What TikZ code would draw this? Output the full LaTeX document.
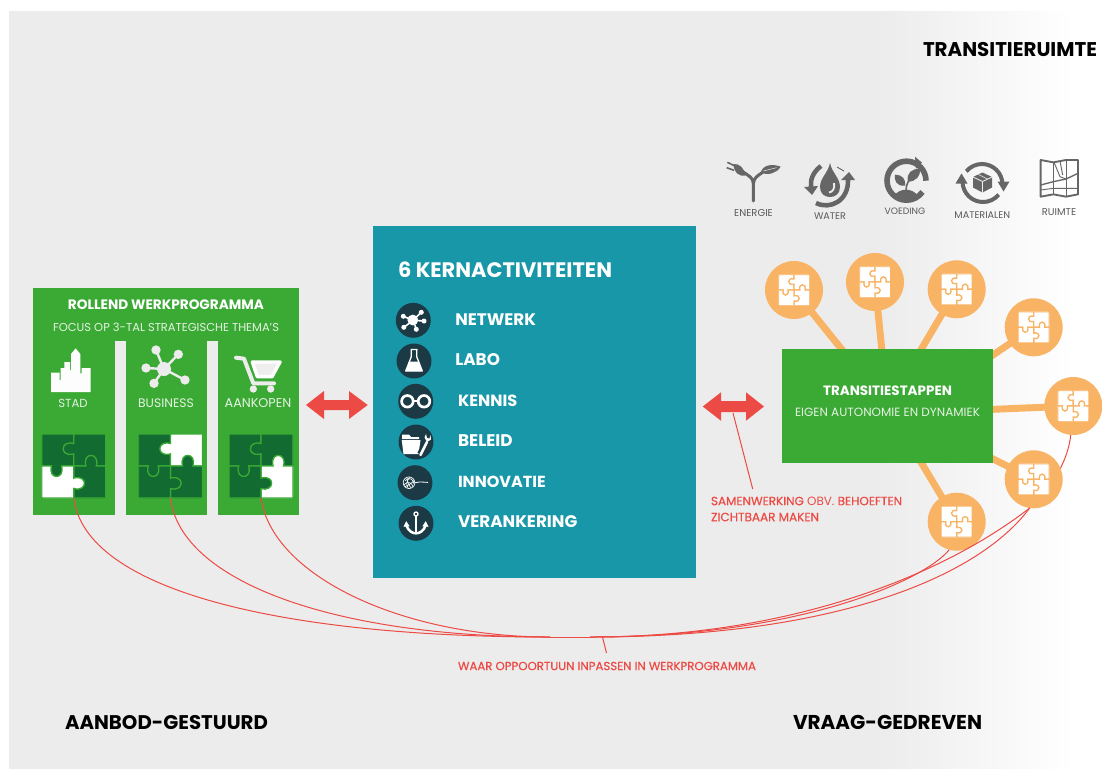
\documentclass[tikz,border=0pt]{standalone}
\usepackage{fontspec}
\usepackage{graphicx}
\setmainfont{Poppins}
\definecolor{bgc}{HTML}{ECECEC}
\definecolor{grn}{HTML}{3BAA35}
\definecolor{dgrn}{HTML}{126B30}
\definecolor{teal1}{HTML}{1897A8}
\definecolor{dteal}{HTML}{1B3A45}
\definecolor{orng}{HTML}{F8B365}
\definecolor{redc}{HTML}{EC4A44}
\definecolor{icon}{HTML}{666666}
\definecolor{lab}{HTML}{5A5A5A}
\definecolor{pale}{HTML}{E4F2E2}
\newcommand\fitw[2]{\resizebox{#1pt}{!}{#2}}
\def\qTL{(-1,-1) -- (0,-1) -- (0,-.70) .. controls (-.44,-.82) and (-.44,-.26) .. (0,-.38) -- (0,0) -- (-.38,0) .. controls (-.26,.44) and (-.82,.44) .. (-.70,0) -- (-1,0) -- cycle}
\def\qTR{(0,-1) -- (1,-1) -- (1,0) -- (.70,0) .. controls (.82,-.44) and (.26,-.44) .. (.38,0) -- (0,0) -- (0,-.38) .. controls (-.44,-.26) and (-.44,-.82) .. (0,-.70) -- cycle}
\def\qBR{(1,0) -- (1,1) -- (0,1) -- (0,.70) .. controls (.44,.82) and (.44,.26) .. (0,.38) -- (0,0) -- (.38,0) .. controls (.26,-.44) and (.82,-.44) .. (.70,0) -- cycle}
\def\qBL{(0,1) -- (-1,1) -- (-1,0) -- (-.70,0) .. controls (-.82,.44) and (-.26,.44) .. (-.38,0) -- (0,0) -- (0,.38) .. controls (.44,.26) and (.44,.82) .. (0,.70) -- cycle}
% name, x, y, half, TL, TR, BL, BR, seam
\newcommand\puzz[9]{%
  \node[inner sep=0pt,outer sep=0pt,minimum size={#4*1.5pt}] (#1) at (#2,#3) {};
  \pgfmathsetmacro{\ulen}{#4*0.75}
  \begin{scope}[shift={(#2,#3)},x=\ulen pt,y=-\ulen pt]
    \clip[rounded corners=1.1pt] (-1,-1) rectangle (1,1);
    \filldraw[fill=#5,draw=#9,line width=.9pt] \qTL;
    \filldraw[fill=#6,draw=#9,line width=.9pt] \qTR;
    \filldraw[fill=#8,draw=#9,line width=.9pt] \qBR;
    \filldraw[fill=#7,draw=#9,line width=.9pt] \qBL;
  \end{scope}}
\newcommand\orb[3]{%
  \node[circle,fill=orng,inner sep=0pt,outer sep=0pt,minimum size=43.5pt] (#1) at (#2,#3) {};}
\newcommand\orbp[3]{\puzz{#1p}{#2}{#3}{15.6}{white}{white}{white}{white}{orng}}
\pgfdeclarelayer{backdrop}
\pgfdeclarelayer{middle}
\pgfsetlayers{backdrop,middle,main}
\tikzset{
  zbox/.style={inner sep=0pt,outer sep=0pt},
  txt/.style={inner sep=0pt,outer sep=0pt},
  spoke/.style={draw=orng,line width=5.2pt},
  thin red/.style={draw=redc,line width=.75pt},
  dot/.style={circle,fill=dteal,inner sep=0pt,outer sep=0pt,minimum size=26.2pt},
}
\begin{document}
\begin{tikzpicture}[x=.75pt,y=-.75pt]
\useasboundingbox (0,0) rectangle (1102,769);
\begin{pgfonlayer}{backdrop}
  \fill[bgc] (9,11) rectangle (880,769);
  \foreach \i in {0,...,59} {
    \pgfmathsetmacro{\xa}{880+\i*3.25}
    \pgfmathsetmacro{\xb}{\xa+3.6}
    \pgfmathsetmacro{\pc}{100-\i*100/59}
    \fill[bgc!\pc!white] (\xa,11) rectangle (\xb,769);
  }
\end{pgfonlayer}

% boxes
\node[zbox,fill=grn,minimum width={266*.75pt},minimum height={227.5*.75pt}] (prog) at (166,401.25) {};
\fill[bgc] (114.7,341) rectangle (125.5,515.2);
\fill[bgc] (206.7,341) rectangle (217.7,515.2);
\node[zbox,fill=teal1,minimum width={323*.75pt},minimum height={352*.75pt}] (kern) at (534.5,402) {};
\node[zbox,fill=grn,minimum width={211*.75pt},minimum height={114*.75pt}] (steps) at (887.5,406.3) {};

% orange circles
\orb{c1}{794}{290}
\orb{c2}{875}{282}
\orb{c3}{956.7}{289.3}
\orb{c4}{1033.7}{327.3}
\orb{c5}{1073.3}{406}
\orb{c6}{1033.7}{479.3}
\orb{c7}{956.7}{521.7}
\orbp{c1}{794}{290}
\orbp{c2}{875}{282}
\orbp{c3}{956.7}{289.3}
\orbp{c4}{1033.7}{327.3}
\orbp{c5}{1073.3}{406}
\orbp{c6}{1033.7}{479.3}
\orbp{c7}{956.7}{521.7}

\coordinate (hubB) at (880,414);
\coordinate (hubC) at (887,427);
\begin{pgfonlayer}{middle}
  \foreach \c in {c1,c2,c3,c6,c7} {\draw[spoke] (steps.center) -- (\c.center);}
  \draw[spoke] (hubB) -- (c5.center);
  \draw[spoke] (hubC) -- (c4.center);
  \draw[thin red] (c5.265) .. controls (1068,462) and (1050,490) .. (c6.262);
\end{pgfonlayer}

% puzzles
\puzz{p1}{73.8}{466}{32}{dgrn}{dgrn}{white}{dgrn}{grn}
\puzz{p2}{170.5}{466}{32}{dgrn}{white}{dgrn}{dgrn}{grn}
\puzz{p3}{261}{466}{32}{dgrn}{dgrn}{dgrn}{white}{grn}

% red curves
\coordinate (mergeL) at (550,637);
\coordinate (mergeR) at (590,637);
\draw[thin red] (p1.south) .. controls (85,590) and (280,637) .. (mergeL);
\draw[thin red] (p2.south) .. controls (180,580) and (330,637) .. (mergeL);
\draw[thin red] (p3.south) .. controls (272,575) and (400,637) .. (mergeL);
\draw[thin red] (mergeL) -- (mergeR);
\draw[thin red] (c7.255) .. controls (925,580) and (800,637) .. (mergeR);
\draw[thin red] (c6.262) .. controls (950,570) and (800,637) .. (mergeR);
\draw[thin red] (c6.262) .. controls (980,575) and (840,637) .. (mergeR);

% red double arrows
\coordinate (arrowL) at (337,405);
\coordinate (arrowR) at (733.5,406.5);
\fill[redc] (306,405) -- (324,391) -- (324,400) -- (349,400) -- (349,391) -- (367.7,405) -- (349,419) -- (349,410) -- (324,410) -- (324,419) -- cycle;
\fill[redc] (702.7,406.5) -- (721,392.3) -- (721,401) -- (746,401) -- (746,392.3) -- (764,406.5) -- (746,420.7) -- (746,412) -- (721,412) -- (721,420.7) -- cycle;

% left box texts
\node[txt,white,font=\bfseries] (t1) at (166,305) {\fitw{147}{ROLLEND WERKPROGRAMMA}};
\node[txt,pale] (t2) at (166,327) {\fitw{169.5}{FOCUS OP 3-TAL STRATEGISCHE THEMA'S}};
\node[txt,pale] (t3) at (73,403.5) {\fitw{22}{STAD}};
\node[txt,pale] (t4) at (166,403.5) {\fitw{41.8}{BUSINESS}};
\node[txt,pale] (t5) at (258,403.5) {\fitw{50}{AANKOPEN}};

% left box icons (zoom coordinates)
\begin{scope}[shift={(20,280)},x=.25pt,y=-.25pt]
  % city
  \fill[white!92!bgc] (93,336) -- (93,278) -- (119,278) -- (119,300) -- (122,300) -- (122,264) -- (133,264) -- (133,246) -- (150,246) -- (150,270) -- (153,270) -- (153,222) -- (167,205) -- (181,222) -- (181,280) -- (185,280) -- (185,264) -- (212,264) -- (212,336) -- cycle;
  % network
  \draw[bgc,line width=1.8pt] (432,267) -- (408,210) (432,267) -- (475,223) (432,267) -- (378,264) (432,267) -- (402,310) (432,267) -- (495,300);
  \fill[bgc] (432,267) circle (21);
  \foreach \a/\b in {408/210,475/223,378/264,402/310,495/300} {\fill[bgc] (\a,\b) circle (14);}
  % cart
  \draw[bgc,line width=3pt,line cap=round,line join=round] (648,233) -- (672,236) -- (700,310) -- (762,310);
  \filldraw[fill=bgc!90!white,draw=white,line width=2.6pt,line join=round] (697,246) -- (780,246) -- (756,290) -- (712,290) -- cycle;
  \fill[bgc] (700,327) circle (11);
  \fill[bgc] (752,327) circle (11);
\end{scope}

% kernactiviteiten texts
\node[txt,white,font=\bfseries,anchor=west] (k0) at (398,269.5) {\fitw{160.5}{6 KERNACTIVITEITEN}};
\node[dot] (d1) at (413.3,320.3) {};
\node[dot] (d2) at (414,361) {};
\node[dot] (d3) at (415.7,401.3) {};
\node[dot] (d4) at (416,442) {};
\node[dot] (d5) at (415,482.7) {};
\node[dot] (d6) at (416,523.3) {};
\node[txt,white,font=\bfseries,anchor=west] (k1) at (455.3,319.3) {\fitw{60.5}{NETWERK}};
\node[txt,white,font=\bfseries,anchor=west] (k2) at (455.3,360) {\fitw{33.5}{LABO}};
\node[txt,white,font=\bfseries,anchor=west] (k3) at (458,400.3) {\fitw{44.5}{KENNIS}};
\node[txt,white,font=\bfseries,anchor=west] (k4) at (458,441) {\fitw{41}{BELEID}};
\node[txt,white,font=\bfseries,anchor=west] (k5) at (458,481.7) {\fitw{65.8}{INNOVATIE}};
\node[txt,white,font=\bfseries,anchor=west] (k6) at (458,521.7) {\fitw{89.5}{VERANKERING}};

% kern icons
\begin{scope}[shift={(d1.center)}]
  \draw[white,line width=1.2pt] (0,0) -- (8,-8) (0,0) -- (10.7,.7) (0,0) -- (-9.5,7) (0,0) -- (-10,-4) (0,0) -- (3,9);
  \fill[white] (-.5,-.3) circle (5.4);
  \foreach \a/\b in {8/-8,10.7/.7,-9.5/7,-10/-4,3/9} {\fill[white] (\a,\b) circle (2.5);}
\end{scope}
\begin{scope}[shift={(d2.center)}]
  \draw[white,line width=1pt,line join=round] (-3.5,-11.5) -- (3.5,-11.5) (-2.8,-11.5) -- (-2.8,-4) -- (-8.3,10) -- (8.3,10) -- (2.8,-4) -- (2.8,-11.5);
  \fill[white] (-5,0.5) -- (5,0.5) -- (8,10) -- (-8,10) -- cycle;
\end{scope}
\begin{scope}[shift={(d3.center)}]
  \draw[white,line width=2pt] (-8.3,0) circle (5.8) (8.3,0) circle (5.8);
  \draw[white,line width=1.4pt] (-2.7,0) -- (2.7,0);
\end{scope}
\begin{scope}[shift={(d4.center)}]
  \fill[white] (-14,-5) -- (-14,-7.5) -- (-7,-7.5) -- (-5,-5) -- (3,-5) -- (3,-3) -- (-14,-3) -- cycle;
  \fill[white] (-14.3,-2) -- (4.5,-2) -- (2.5,12) -- (-12.5,12) -- cycle;
  \draw[dteal,line width=1pt] (2,11) -- (11,-6);
  \draw[white,line width=1.9pt,line cap=round] (4.5,13) -- (11,0);
  \fill[white] (11,0) -- (8.5,-4.5) -- (10,-8) -- (11,-4) -- (13.5,-3.5) -- (14.5,-7) -- (15,-2.5) -- cycle;
\end{scope}
\begin{scope}[shift={(d5.center)}]
  \draw[white,line width=.5pt] (-6,0) circle (5.8);
  \draw[white,line width=.5pt] (-10,-2) .. controls (-6,-6) and (-2,-4) .. (-1,1);
  \draw[white,line width=.5pt] (-11,2) .. controls (-7,-2) and (-3,0) .. (-2,4);
  \draw[white,line width=.5pt] (-8,-5) .. controls (-8,-1) and (-6,3) .. (-4,5);
  \draw[white,line width=.5pt] (-5,-5.5) .. controls (-9,-1) and (-9,2) .. (-7,5);
  \draw[white,line width=.5pt] (-1,-2) .. controls (-4,1) and (-7,3) .. (-10,4);
  \draw[white,line width=.6pt] (0,0) -- (5,-.8) -- (13,-.3);
\end{scope}
\begin{scope}[shift={(d6.center)}]
  \draw[white,line width=1pt] (0,-9.3) circle (2);
  \draw[white,line width=1.9pt] (0,-7.2) -- (0,10.5);
  \draw[white,line width=1.9pt] (-9.7,1) .. controls (-8,8.5) and (-3,10) .. (0,10) .. controls (3,10) and (8,8.5) .. (9.7,1);
  \fill[white] (-12.5,3.5) -- (-9.8,-2.2) -- (-6.3,3) -- cycle;
  \fill[white] (12.5,3.5) -- (9.8,-2.2) -- (6.3,3) -- cycle;
\end{scope}

% steps texts
\node[txt,white,font=\bfseries] (s1) at (887.5,391) {\fitw{96.7}{TRANSITIESTAPPEN}};
\node[txt,pale] (s2) at (887.5,412.3) {\fitw{138.7}{EIGEN AUTONOMIE EN DYNAMIEK}};

% red labels
\coordinate (lead1) at (752.7,489);
\coordinate (lead0) at (733,413);
\draw[thin red] (lead0) -- (lead1);
\node[txt,text=redc,anchor=west] (r1) at (711,501) {\fitw{143.3}{{\addfontfeatures{FakeBold=0.5}SAMENWERKING} OBV. {\addfontfeatures{FakeBold=0.5}BEHOEFTEN}}};
\node[txt,text=redc,anchor=west] (r2) at (711,517) {\fitw{81}{\addfontfeatures{FakeBold=0.5}ZICHTBAAR MAKEN}};
\coordinate (lead2) at (602.5,637);
\coordinate (lead3) at (606.5,653);
\draw[thin red] (lead2) -- (lead3);
\node[txt,text=redc] (r3) at (607,666) {\fitw{223.5}{\addfontfeatures{FakeBold=0.5}WAAR OPPOORTUUN INPASSEN IN WERKPROGRAMMA}};

% headings
\node[txt,font=\bfseries,anchor=east] (h1) at (1097,49) {\fitw{130.5}{TRANSITIERUIMTE}};
\node[txt,font=\bfseries,anchor=west] (h2) at (65,722.5) {\fitw{152.2}{AANBOD-GESTUURD}};
\node[txt,font=\bfseries,anchor=west] (h3) at (793,722.5) {\fitw{141.8}{VRAAG-GEDREVEN}};

% theme labels
\node[txt,text=lab] (e1) at (753.5,213.3) {\fitw{29}{ENERGIE}};
\node[txt,text=lab] (e2) at (830,215.7) {\fitw{24}{WATER}};
\node[txt,text=lab] (e3) at (905,211) {\fitw{30.5}{VOEDING}};
\node[txt,text=lab] (e4) at (982.3,215) {\fitw{41.8}{MATERIALEN}};
\node[txt,text=lab] (e5) at (1059,211.7) {\fitw{25.7}{RUIMTE}};

% energy icon
\begin{scope}[shift={(720,155)},x=.25pt,y=-.25pt]
  \draw[icon,line width=2.3pt,line cap=round] (100,138) -- (100,85) .. controls (100,68) and (85,62) .. (68,50);
  \draw[icon,line width=2.3pt] (100,85) .. controls (102,68) and (113,62) .. (128,52);
  \fill[icon] (40,27) .. controls (58,25) and (75,40) .. (75,62) .. controls (60,65) and (42,55) .. (40,27) -- cycle;
  \draw[icon,line width=1.2pt] (45,33) -- (22,22) (42,46) -- (20,38);
  \fill[icon] (122,53) .. controls (128,30) and (155,25) .. (182,35) .. controls (170,55) and (145,62) .. (122,53) -- cycle;
  \draw[bgc,line width=.4pt] (130,48) -- (170,38);
\end{scope}
% water icon
\begin{scope}[shift={(830,186)}]
  \fill[icon] (0,-23) .. controls (2,-13) and (10,-8) .. (10,1) .. controls (10,8) and (5,11) .. (0,11) .. controls (-5,11) and (-10,8) .. (-10,1) .. controls (-10,-8) and (-2,-13) .. (0,-23) -- cycle;
  \draw[bgc,line width=1.4pt] (4,-3) .. controls (5,2) and (3,6) .. (-1,6.5);
  \draw[icon,line width=3.4pt] (-9,-20) .. controls (-17,-14) and (-20,-6) .. (-19,1);
  \fill[icon] (-26,1) -- (-12,0) -- (-18,9) -- cycle;
  \draw[icon,line width=3.4pt] (-14,17) .. controls (0,24) and (19,15) .. (18,-7);
  \fill[icon] (11,-6) -- (25,-6) -- (19,-14) -- cycle;
  \draw[icon,line width=.7pt] (7,-19) -- (14,-15);
\end{scope}
% voeding icon
\begin{scope}[shift={(906,181.7)}]
  \draw[icon,line width=4.2pt] (20,-1) arc (0:-325:19.5);
  \fill[icon] (16,-19) -- (9,-25) -- (10,-13) -- cycle;
  \fill[icon] (-12,14) .. controls (-6,6) and (6,6) .. (12,14) .. controls (6,18) and (-6,18) .. (-12,14) -- cycle;
  \draw[icon,line width=1.2pt] (0,9) .. controls (0,2) and (3,-2) .. (7,-6);
  \fill[icon] (-1,4) .. controls (-10,5) and (-12,-2) .. (-11,-7) .. controls (-4,-7) and (0,-3) .. (-1,4) -- cycle;
  \fill[icon] (2,0) .. controls (0,-9) and (6,-13) .. (14,-13) .. controls (15,-6) and (10,0) .. (2,0) -- cycle;
\end{scope}
% materialen icon
\begin{scope}[shift={(982.5,182.5)}]
  \draw[icon,line width=3pt] (-20,-1) arc (180:40:20.5);
  \draw[icon,line width=3pt] (20,2) arc (0:-140:20.5);
  \fill[icon] (-21,-9) -- (-27,1) -- (-15,1) -- cycle;
  \fill[icon] (21,9) -- (27,-1) -- (15,-1) -- cycle;
  \fill[icon] (0,-10) -- (9.5,-5.5) -- (9.5,5) -- (0,10) -- (-9.5,5) -- (-9.5,-5.5) -- cycle;
  \draw[bgc!70!white,line width=.6pt] (-9.5,-5.5) -- (0,-1) -- (9.5,-5.5) (0,-1) -- (0,10);
  \draw[bgc!70!white,line width=.5pt] (-4,-8) -- (5,-3.5);
\end{scope}
% ruimte icon
\begin{scope}[shift={(910,155)},x=.25pt,y=-.25pt]
  \draw[icon,line width=1.4pt,line join=round] (392,15) -- (430,22) -- (468,15) -- (504,15) -- (504,118) -- (468,125) -- (430,118) -- (392,125) -- cycle;
  \draw[icon,line width=.7pt] (430,22) -- (430,118) (468,15) -- (468,125);
  \draw[icon,line width=1pt] (392,90) -- (430,80) -- (468,72) -- (504,55);
  \draw[icon,line width=.7pt] (392,105) -- (430,100) -- (504,100);
  \draw[icon,line width=.7pt] (432,22) -- (450,65) -- (468,72) (450,18) -- (458,60);
\end{scope}
\end{tikzpicture}
\end{document}
